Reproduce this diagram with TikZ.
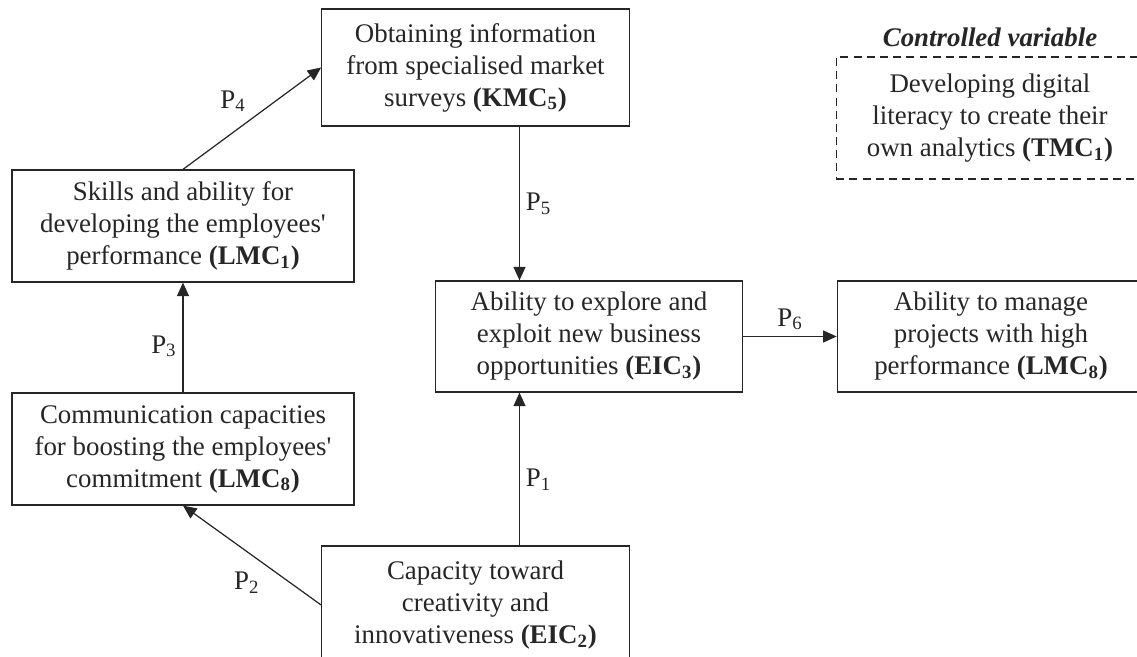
\documentclass[tikz,border=0pt]{standalone}
\usepackage{fontspec}
\setmainfont{Liberation Serif}
\usetikzlibrary{arrows.meta}

\begin{document}
\begin{tikzpicture}[>={Triangle[length=0.27cm, width=0.24cm]}, line width=0.7pt, color=black!85, font=\fontsize{15.3}{18.2}\selectfont, box/.style={draw, align=center, minimum height=2.24cm}, narrow/.style={box, minimum width=6.15cm}, wide/.style={box, minimum width=6.84cm}]
	\useasboundingbox (0,0) rectangle (22.74,13.14);
	\clip (0,0) rectangle (22.74,13.14);
	\node[narrow, minimum height=2.34cm] (K5) at (9.51,11.79) {Obtaining information\\from specialised market\\surveys \textbf{(KMC\textsubscript{5})}};
	\node[wide] (L1) at (3.66,8.62) {Skills and ability for\\developing the employees\textquotesingle\\performance \textbf{(LMC\textsubscript{1})}};
	\node[wide] (L8) at (3.66,4.16) {Communication capacities\\for boosting the employees\textquotesingle\\commitment \textbf{(LMC\textsubscript{8})}};
	\node[narrow, minimum height=2.22cm] (E3) at (11.78,6.41) {Ability to explore and\\exploit new business\\opportunities \textbf{(EIC\textsubscript{3})}};
	\node[narrow, minimum height=2.22cm] (M8) at (19.82,6.41) {Ability to manage\\projects with high\\performance \textbf{(LMC\textsubscript{8})}};
	\node[narrow, minimum height=2.36cm] (E2) at (9.51,1.04) {Capacity toward\\creativity and\\innovativeness \textbf{(EIC\textsubscript{2})}};
	\node[narrow, dashed, dash pattern=on 4.5pt off 3pt, minimum height=2.44cm] (T1) at (19.8,10.78) {Developing digital\\literacy to create their\\own analytics \textbf{(TMC\textsubscript{1})}};
	\node[font=\fontsize{15.3}{18.2}\selectfont\bfseries\itshape] (CV) at (19.8,12.4) {Controlled variable};
	\coordinate (p5) at ([xshift=0.88cm]K5.south);
	\coordinate (p1) at ([xshift=0.88cm]E2.north);
	\draw[->] (L1.north) -- node[above left] {P\textsubscript{4}} (K5.west);
	\draw[->] (p5) -- node[right] {P\textsubscript{5}} (p5 |- E3.north);
	\draw[->] (p1) -- node[right, pos=0.43] {P\textsubscript{1}} (p1 |- E3.south);
	\draw[->] (L8.north) -- node[left, pos=0.42] {P\textsubscript{3}} (L1.south);
	\draw[->] (E3.east) -- node[above] {P\textsubscript{6}} (M8.west);
	\draw[->] (E2.west) -- node[below left, pos=0.4] {P\textsubscript{2}} (L8.south);
\end{tikzpicture}
\end{document}
